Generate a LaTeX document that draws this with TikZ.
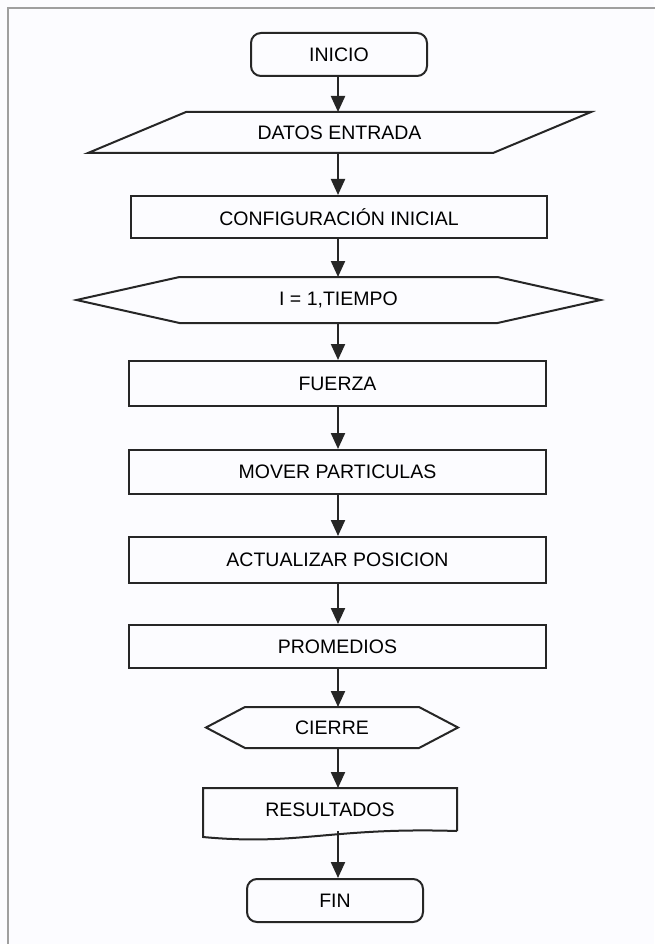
\documentclass[tikz,border=0pt]{standalone}
\usepackage{fontspec}
\setmainfont{Liberation Sans}
\usetikzlibrary{arrows.meta}
\tikzset{
        caja/.style={align=center, inner sep=0pt, font=\fontsize{19.5}{23}\selectfont, text=black},
        % Inicio y fin
        nodo_extremo/.style={caja, draw, rounded corners=10pt, minimum width=176pt, minimum height=43pt},
        % Procesos
        nodo_proceso/.style={caja, draw, minimum width=417pt, minimum height=44pt},
        % Entrada, bucle, documento: contorno dibujado aparte
        nodo_libre/.style={caja, minimum height=40pt}
}
\begin{document}
\begin{tikzpicture}[
            x=1pt, y=-1pt,
            line width=2pt,
            draw=black!85,
            flecha/.style={-{Triangle[length=16pt,width=14pt]}, line width=2.2pt, draw=black!85, fill=black!85},
            marco/.style={draw=gray!75, line width=2pt}
        ]
            \useasboundingbox (0,0) rectangle (654,944);
            \fill[blue!1] (0,0) rectangle (654,944);
            \draw[marco] (8,960) |- (670,8);
            \coordinate (eje) at (338,0);

            \node[nodo_extremo] (inicio) at (339,54.5) {INICIO};
            \node[nodo_libre, minimum width=403pt, minimum height=39pt] (datos) at (339.5,132.5) {DATOS ENTRADA};
            \node[nodo_proceso, minimum width=416pt, minimum height=42pt] (config) at (339,217) {CONFIGURACIÓN INICIAL};
            \node[nodo_libre, minimum width=316pt, minimum height=44pt] (bucle) at (338.5,300) {I = 1,TIEMPO};
            \node[nodo_proceso, minimum height=45pt] (fuerza) at (337.5,383.5) {FUERZA};
            \node[nodo_proceso] (mover) at (337.5,472) {MOVER PARTICULAS};
            \node[nodo_proceso, minimum height=46pt] (actualizar) at (337.5,560) {ACTUALIZAR POSICION};
            \node[nodo_proceso, minimum height=43pt] (promedios) at (337.5,646.5) {PROMEDIOS};
            \node[nodo_libre, minimum width=172pt, minimum height=39pt] (cierre) at (332,727.5) {CIERRE};
            \node[nodo_libre, minimum width=252pt, minimum height=41pt] (resultados) at (330,809.5) {RESULTADOS};
            \node[nodo_extremo] (fin) at (335,900.5) {FIN};

            % contornos
            \draw ([xshift=-49pt]datos.south west) -- ([xshift=49pt]datos.north west)
                -- ([xshift=49pt]datos.north east) -- ([xshift=-49pt]datos.south east) -- cycle;
            \draw ([xshift=-103pt]bucle.west) -- (bucle.north west) -- (bucle.north east)
                -- ([xshift=103pt]bucle.east) -- (bucle.south east) -- (bucle.south west) -- cycle;
            \draw ([xshift=-39pt]cierre.west) -- (cierre.north west) -- (cierre.north east)
                -- ([xshift=39pt]cierre.east) -- (cierre.south east) -- (cierre.south west) -- cycle;
            \draw[line join=miter] (resultados.south east) -- (resultados.north east) -- (resultados.north west)
                -- ([yshift=-6pt]resultados.south west)
                .. controls +(96pt,-9pt) and +(-126pt,4pt) .. (resultados.south east);

            \foreach \a/\b in {inicio/datos, datos/config, config/bucle, bucle/fuerza, fuerza/mover,
                mover/actualizar, actualizar/promedios, promedios/cierre, cierre/resultados, resultados/fin}
                \draw[flecha] (\a.south -| eje) -- (\b.north -| eje);
        \end{tikzpicture}
\end{document}
